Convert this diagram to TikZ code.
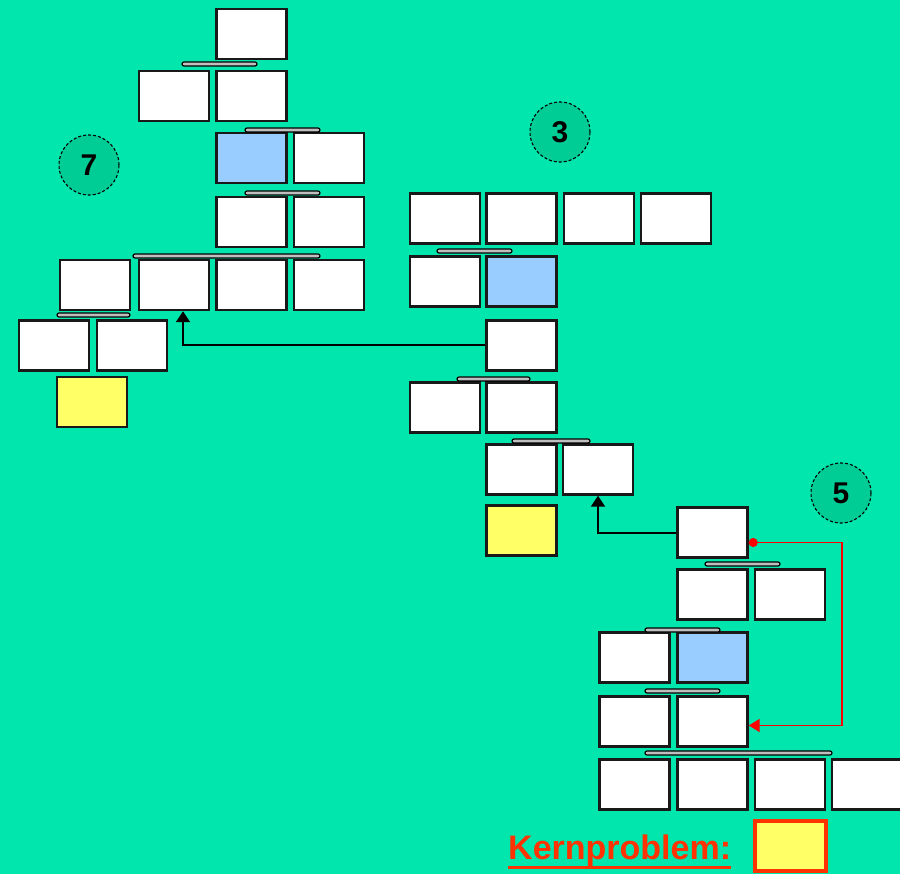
\documentclass[tikz,border=0pt]{standalone}
\usepackage{fontspec}
\setmainfont{Liberation Sans}
\definecolor{mint}{RGB}{0, 230, 172}
\definecolor{darkmint}{RGB}{0, 204, 150}
\definecolor{cellblue}{RGB}{153, 204, 255}
\definecolor{cellyellow}{RGB}{255, 255, 102}
\definecolor{kernred}{RGB}{255, 51, 0}
\usetikzlibrary{arrows.meta, positioning}
\tikzset{
	cell/.style={rectangle, draw=black!90, fill=white, line width=2.4pt, minimum width=70pt, minimum height=50pt, inner sep=0pt},
	bluecell/.style={cell, fill=cellblue},
	yellowcell/.style={cell, fill=cellyellow},
	bar/.style={draw=black, fill=black!25, line width=1.2pt, rounded corners=2pt},
	marker/.style={circle, densely dashed, draw=black, fill=darkmint, line width=1.1pt, minimum size=60pt, inner sep=0pt, font=\fontsize{30}{30}\selectfont\bfseries},
	linkarrow/.style={-{Triangle[length=11pt, width=14pt]}, line width=2pt, draw=black},
	redarrow/.style={{Circle[length=9pt]}-{Triangle[length=11pt, width=13pt]}, line width=1.8pt, draw=red},
}

\begin{document}
\begin{tikzpicture}[x=1pt, y=-1pt]
		\useasboundingbox (0,0) rectangle (900,874);
		\fill[mint] (0,0) rectangle (900,874);
		% left tree
		\node[cell] (l1) at (251.5,34) {};
		\node[cell] (l2a) at (174,96) {};
		\node[cell] (l2b) at (251.5,96) {};
		\node[bluecell] (l3a) at (251.5,158) {};
		\node[cell] (l3b) at (329,158) {};
		\node[cell] (l4a) at (251.5,222) {};
		\node[cell] (l4b) at (329,222) {};
		\node[cell] (l5a) at (95,285) {};
		\node[cell] (l5b) at (174,285) {};
		\node[cell] (l5c) at (251.5,285) {};
		\node[cell] (l5d) at (329,285) {};
		\node[cell] (l6a) at (54,345.5) {};
		\node[cell] (l6b) at (132,345.5) {};
		\node[yellowcell] (l7) at (92,402) {};
		\draw[bar] (182,62) rectangle (257,66);
		\draw[bar] (245,128) rectangle (320,132);
		\draw[bar] (245,191) rectangle (320,195);
		\draw[bar] (133,254) rectangle (320,258);
		\draw[bar] (57,313) rectangle (130,317);
		% middle tree
		\node[cell] (m1a) at (445,218.5) {};
		\node[cell] (m1b) at (521.5,218.5) {};
		\node[cell] (m1c) at (599,218.5) {};
		\node[cell] (m1d) at (676,218.5) {};
		\node[cell] (m2a) at (445,281.5) {};
		\node[bluecell] (m2b) at (521.5,281.5) {};
		\node[cell] (m3) at (521.5,345.5) {};
		\node[cell] (m4a) at (445,407.5) {};
		\node[cell] (m4b) at (521.5,407.5) {};
		\node[cell] (m5a) at (521.5,469.5) {};
		\node[cell] (m5b) at (598,469.5) {};
		\node[yellowcell] (m6) at (521.5,530.5) {};
		\draw[bar] (437,249) rectangle (512,253);
		\draw[bar] (457,377) rectangle (530,381);
		\draw[bar] (512,439) rectangle (590,443);
		% right tree
		\node[cell] (r1) at (712.5,532.5) {};
		\node[cell] (r2a) at (712.5,594.5) {};
		\node[cell] (r2b) at (790,594.5) {};
		\node[cell] (r3a) at (634.5,657.5) {};
		\node[bluecell] (r3b) at (712.5,657.5) {};
		\node[cell] (r4a) at (634.5,721.5) {};
		\node[cell] (r4b) at (712.5,721.5) {};
		\node[cell] (r5a) at (634.5,784.5) {};
		\node[cell] (r5b) at (712.5,784.5) {};
		\node[cell] (r5c) at (790,784.5) {};
		\node[cell] (r5d) at (867,784.5) {};
		\draw[bar] (705,562) rectangle (780,566);
		\draw[bar] (645,628) rectangle (720,632);
		\draw[bar] (645,689) rectangle (720,693);
		\draw[bar] (645,751) rectangle (832,755);
		% markers
		\node[marker] (n7) at (89,165) {7};
		\node[marker] (n3) at (560,132) {3};
		\node[marker] (n5) at (841,493) {5};
		% links
		\draw[linkarrow] (m3.west) -| ([xshift=9pt]l5b.south);
		\draw[linkarrow] (r1.west) -| (m5b.south);
		\draw[redarrow] ([yshift=-10pt]r1.east) -- ++(93,0) |- ([yshift=-4pt]r4b.east);
		% legend
		\node[font=\fontsize{34}{34}\selectfont\bfseries, text=kernred, anchor=base west, inner sep=0pt] (kern) at (508,859) {Kernproblem:};
		\draw[kernred, line width=3pt] ([yshift=-8pt]kern.base west) -- ([yshift=-8pt]kern.base east);
		\node[yellowcell, draw=kernred, line width=3.5pt, minimum width=71pt, minimum height=50pt] (kernbox) at (790.5,846) {};
	\end{tikzpicture}
\end{document}
